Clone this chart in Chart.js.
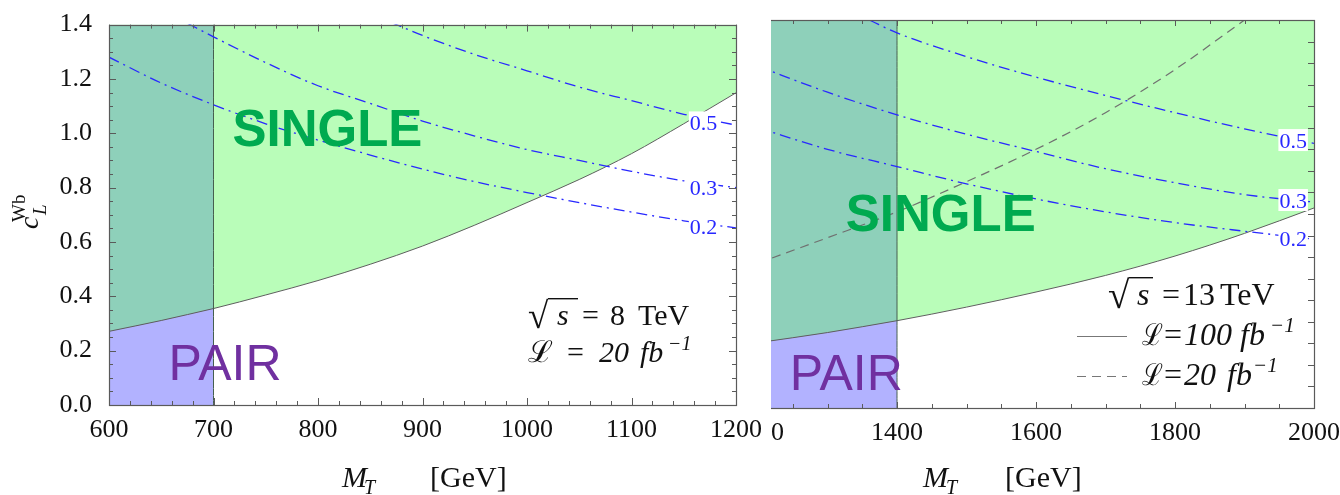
<!DOCTYPE html>
<html>
<head>
<meta charset="utf-8">
<script src="https://cdn.jsdelivr.net/npm/chart.js@4.4.1/dist/chart.umd.min.js"></script>
<style>
  html, body { margin: 0; padding: 0; background: #fff; overflow: hidden; }
  #page { position: relative; width: 1340px; height: 495px; }
  #left { position: absolute; left: 0; top: 0; }
  #rightClip { position: absolute; left: 771px; top: 0; width: 569px; height: 495px; overflow: hidden; }
  #right { position: absolute; left: -43px; top: 0; }
</style>
</head>
<body>
<div id="page">
  <canvas id="left" width="770" height="495"></canvas>
  <div id="rightClip"><canvas id="right" width="614" height="495"></canvas></div>
</div>
<script>
// ---- sqrt(s) = 8 TeV panel ----
const massL = [600, 650, 700, 750, 800, 850, 900, 950, 1000, 1050, 1100, 1150, 1200];
const reachL = [0.271, 0.311, 0.355, 0.405, 0.458, 0.518, 0.585, 0.662, 0.745, 0.830, 0.925, 1.035, 1.149];
const pairLimitL = 700;
const c05MassL = [870, 900, 950, 1000, 1050, 1100, 1150, 1200];
const c05L = [1.408, 1.36, 1.29, 1.23, 1.17, 1.12, 1.07, 1.03];
const c03MassL = [675, 700, 750, 800, 850, 900, 950, 1000, 1050, 1100, 1150, 1200];
const c03L = [1.405, 1.355, 1.26, 1.175, 1.11, 1.045, 0.99, 0.94, 0.90, 0.86, 0.825, 0.80];
const c02MassL = [600, 650, 700, 750, 800, 850, 900, 950, 1000, 1050, 1100, 1150, 1200];
const c02L = [1.28, 1.185, 1.105, 1.035, 0.975, 0.92, 0.868, 0.822, 0.782, 0.745, 0.71, 0.678, 0.652];
const xTicksL = [600, 700, 800, 900, 1000, 1100, 1200];
const yTicksL = [0, 0.2, 0.4, 0.6, 0.8, 1.0, 1.2, 1.4];

// ---- sqrt(s) = 13 TeV panel ----
const massR = [1200, 1300, 1400, 1500, 1600, 1700, 1800, 1900, 2000];
const reach100R = [0.303, 0.350, 0.405, 0.468, 0.538, 0.615, 0.705, 0.810, 0.928];
const reach20MassR = [1200, 1300, 1400, 1500, 1600, 1700, 1800, 1900];
const reach20R = [0.672, 0.79, 0.91, 1.05, 1.20, 1.37, 1.57, 1.80];
const pairLimitR = 1400;
const c05MassR = [1360, 1400, 1500, 1600, 1700, 1800, 1900, 2000];
const c05R = [1.80, 1.74, 1.63, 1.535, 1.45, 1.37, 1.295, 1.228];
const c03R = [1.585, 1.465, 1.36, 1.27, 1.19, 1.11, 1.045, 0.99, 0.955];
const c02R = [1.30, 1.20, 1.12, 1.04, 0.97, 0.91, 0.86, 0.82, 0.783];
const xTicksR = [1200, 1400, 1600, 1800, 2000];

// contour labels (value, then where the tag sits on the curve)
const contourNames = ['0.5', '0.3', '0.2'];
const tagMassL = 1169, tagCL = [1.04, 0.802, 0.657];
const tagMassR = 1970, tagCR = [1.243, 0.965, 0.789];

const SERIF = "'Liberation Serif', 'DejaVu Serif', serif";
const SANS = "'Liberation Sans', Arial, sans-serif";
const GREEN = 'rgb(185,253,185)';
const TEAL = 'rgb(142,208,186)';
const BLUE = 'rgb(178,178,255)';
const EDGE = 'rgb(95,95,95)';
const CONTOUR = 'rgb(40,40,255)';

Chart.defaults.font.family = SERIF;
Chart.defaults.font.size = 26;
Chart.defaults.color = '#111';

const pts = (xs, ys) => xs.map((x, i) => ({ x: x, y: ys[i] }));

function regionSets(mass, reach, pairLimit, yMax) {
  const pm = mass.filter(m => m <= pairLimit);
  const pairPts = pts(pm, reach);
  return [
    { data: pts(mass, reach), fill: 'end', backgroundColor: GREEN, borderColor: EDGE, borderWidth: 1, order: 5 },
    { data: pairPts, fill: 'end', backgroundColor: TEAL, borderColor: 'transparent', borderWidth: 0, order: 4 },
    { data: pairPts, fill: 'start', backgroundColor: BLUE, borderColor: EDGE, borderWidth: 1, order: 3 },
    { data: [{ x: pairLimit, y: 0 }, { x: pairLimit, y: yMax }], borderColor: 'rgb(70,95,80)', borderWidth: 1, fill: false, order: 2 }
  ];
}

function contourSet(xs, ys) {
  return { data: pts(xs, ys), borderColor: CONTOUR, borderWidth: 1.3, borderDash: [11, 5, 2, 5], fill: false, order: 1 };
}

// frame with inward ticks on all sides
function frameTicks(o) {
  return {
    id: 'frameTicks',
    afterDatasetsDraw(chart) {
      const { ctx, chartArea: a, scales: { x, y } } = chart;
      const isMajor = (v, step) => Math.abs(v / step - Math.round(v / step)) < 1e-6;
      ctx.save();
      ctx.strokeStyle = '#5a5a5a';
      ctx.lineWidth = 1;
      ctx.beginPath();
      const nx = Math.round((x.max - x.min) / o.xMinor);
      for (let i = 0; i <= nx; i++) {
        const v = x.min + i * o.xMinor;
        const px = Math.round(x.getPixelForValue(v)) + 0.5;
        const len = isMajor(v, o.xMajor) ? o.majorLen : o.minorLen;
        ctx.moveTo(px, a.bottom); ctx.lineTo(px, a.bottom - len);
        ctx.moveTo(px, a.top); ctx.lineTo(px, a.top + len);
      }
      const ny = Math.round((y.max - y.min) / o.yMinor);
      for (let i = 0; i <= ny; i++) {
        const v = y.min + i * o.yMinor;
        const py = Math.round(y.getPixelForValue(v)) + 0.5;
        const len = isMajor(v, o.yMajor) ? o.majorLen : o.minorLen;
        ctx.moveTo(a.left, py); ctx.lineTo(a.left + len, py);
        ctx.moveTo(a.right, py); ctx.lineTo(a.right - len, py);
      }
      ctx.stroke();
      ctx.lineWidth = 1.2;
      ctx.strokeRect(Math.round(a.left) + 0.5, Math.round(a.top) + 0.5,
        Math.round(a.right - a.left), Math.round(a.bottom - a.top));
      ctx.restore();
    }
  };
}

function contourTags(mass, cs) {
  return {
    id: 'contourTags',
    afterDatasetsDraw(chart) {
      const { ctx, scales: { x, y } } = chart;
      ctx.save();
      ctx.font = '22px ' + SERIF;
      ctx.textAlign = 'center';
      ctx.textBaseline = 'alphabetic';
      contourNames.forEach((name, i) => {
        const px = x.getPixelForValue(mass);
        const py = y.getPixelForValue(cs[i]);
        const w = ctx.measureText(name).width + 2;
        ctx.fillStyle = '#fff';
        ctx.fillRect(px - w / 2, py - 11, w, 22);
        ctx.fillStyle = CONTOUR;
        ctx.fillText(name, px, py + 8);
      });
      ctx.restore();
    }
  };
}

// text runs: [text, x, baseline, font, maxWidth]
function runs(ctx, list, dx) {
  list.forEach(r => {
    ctx.font = r[3];
    ctx.fillStyle = '#111';
    ctx.textAlign = 'left';
    ctx.textBaseline = 'alphabetic';
    if (r[4]) ctx.fillText(r[0], r[1] - dx, r[2], r[4]);
    else ctx.fillText(r[0], r[1] - dx, r[2]);
  });
}

// radical sign with its bar running to xEnd
function radical(ctx, x, y, size, xEnd) {
  ctx.save();
  ctx.font = size + 'px ' + SERIF;
  ctx.fillStyle = '#111';
  ctx.textBaseline = 'alphabetic';
  ctx.fillText('√', x, y);
  const m = ctx.measureText('√');
  const top = y - m.actualBoundingBoxAscent;
  ctx.strokeStyle = '#111';
  ctx.lineWidth = 1.4;
  ctx.beginPath();
  ctx.moveTo(x + m.actualBoundingBoxRight - 1, top + 0.7);
  ctx.lineTo(xEnd, top + 0.7);
  ctx.stroke();
  ctx.restore();
}

function hline(ctx, x0, x1, y, dash, color, width) {
  ctx.save();
  ctx.strokeStyle = color;
  ctx.lineWidth = width;
  ctx.setLineDash(dash);
  ctx.beginPath();
  ctx.moveTo(x0, y); ctx.lineTo(x1, y);
  ctx.stroke();
  ctx.restore();
}

function bigLabel(chart, text, at, font, color) {
  const { ctx, scales: { x, y } } = chart;
  ctx.save();
  ctx.font = font;
  ctx.fillStyle = color;
  ctx.textAlign = 'center';
  ctx.textBaseline = 'alphabetic';
  ctx.fillText(text, x.getPixelForValue(at[0]), y.getPixelForValue(at[1]) + 18.5);
  ctx.restore();
}

const N30 = '30px ' + SERIF, I30 = 'italic 30px ' + SERIF, I20 = 'italic 20px ' + SERIF;
const N32 = '32px ' + SERIF, I32 = 'italic 32px ' + SERIF, I21 = 'italic 21px ' + SERIF;
const SCRIPT = '30px ' + SERIF;

const notesL = {
  id: 'notesL',
  afterDraw(chart) {
    const ctx = chart.ctx;
    bigLabel(chart, 'SINGLE', [809, 1.021], 'bold 51px ' + SANS, '#00AA50');
    bigLabel(chart, 'PAIR', [711, 0.161], '50px ' + SANS, '#7030A0');
    radical(ctx, 528, 328, 37, 578);
    runs(ctx, [
      ['s', 557, 325, I30], ['=', 582, 325, N30], ['8', 610, 325, N30], ['TeV', 638, 325, N30],
      ['ℒ', 528, 362, SCRIPT, 25], ['=', 567, 362, N30], ['20', 599, 362, I30], ['fb', 640, 362, I30], ['−1', 668, 350, I20],
      ['M', 342, 487, I30], ['T', 364, 494, I20], ['[GeV]', 430, 487, N30]
    ], 0);
    // y axis title c_L^Wb
    ctx.save();
    ctx.translate(38, 229);
    ctx.rotate(-Math.PI / 2);
    runs(ctx, [['c', 0, 0, 'italic 28px ' + SERIF], ['L', 14, 8, 'italic 19px ' + SERIF], ['Wb', 7, -13, '19px ' + SERIF]], 0);
    ctx.restore();
  }
};

const OFF = 728; // right canvas left edge on the page
const notesR = {
  id: 'notesR',
  afterDraw(chart) {
    const ctx = chart.ctx;
    bigLabel(chart, 'SINGLE', [1463, 0.909], 'bold 51px ' + SANS, '#00AA50');
    bigLabel(chart, 'PAIR', [1327, 0.169], '50px ' + SANS, '#7030A0');
    radical(ctx, 1108 - OFF, 308, 39, 1153 - OFF);
    runs(ctx, [
      ['s', 1137, 305, I32], ['=', 1162, 305, N32], ['13', 1183, 305, N32], ['TeV', 1220, 305, N32],
      ['ℒ', 1142, 345, SCRIPT, 21], ['=', 1164, 345, N32], ['100', 1184, 345, I32], ['fb', 1240, 345, I32], ['−1', 1270, 332, I21],
      ['ℒ', 1142, 385, SCRIPT, 21], ['=', 1164, 385, N32], ['20', 1184, 385, I32], ['fb', 1227, 385, I32], ['−1', 1253, 372, I21],
      ['M', 923, 487, I30], ['T', 946, 494, I20], ['[GeV]', 1005, 487, N30]
    ], OFF);
    hline(ctx, 1077 - OFF, 1127 - OFF, 336.5, [], '#777', 1.2);
    hline(ctx, 1077 - OFF, 1127 - OFF, 376.5, [9, 6], '#777', 1.2);
  }
};

const tickFont = { family: SERIF, size: 26 };

const leftChart = new Chart(document.getElementById('left'), {
  type: 'line',
  data: {
    datasets: regionSets(massL, reachL, pairLimitL, 1.4).concat([
      contourSet(c05MassL, c05L), contourSet(c03MassL, c03L), contourSet(c02MassL, c02L)
    ])
  },
  options: {
    responsive: false,
    animation: false,
    devicePixelRatio: 1,
    layout: { padding: { left: 0, right: 34, top: 17, bottom: 0 } },
    elements: { point: { radius: 0 }, line: { cubicInterpolationMode: 'monotone' } },
    plugins: { legend: { display: false }, tooltip: { enabled: false } },
    scales: {
      x: {
        type: 'linear', min: 600, max: 1200,
        afterBuildTicks: s => { s.ticks = xTicksL.map(v => ({ value: v })); },
        afterFit: s => { s.height = 90; },
        ticks: { font: tickFont, color: '#111', padding: 2, autoSkip: false, maxRotation: 0, callback: v => String(v) },
        grid: { display: false }, border: { display: false }
      },
      y: {
        min: 0, max: 1.4,
        afterBuildTicks: s => { s.ticks = yTicksL.map(v => ({ value: v })); },
        afterFit: s => { s.width = 109; },
        ticks: { font: tickFont, color: '#111', padding: 9, callback: v => v.toFixed(1) },
        grid: { display: false }, border: { display: false }
      }
    }
  },
  plugins: [frameTicks({ xMinor: 20, xMajor: 100, yMinor: 0.05, yMajor: 0.2, majorLen: 7, minorLen: 4 }),
    contourTags(tagMassL, tagCL), notesL]
});

const rightChart = new Chart(document.getElementById('right'), {
  type: 'line',
  data: {
    datasets: regionSets(massR, reach100R, pairLimitR, 1.8).concat([
      { data: pts(reach20MassR, reach20R), borderColor: '#707070', borderWidth: 1.2, borderDash: [9, 6], fill: false, order: 1 },
      contourSet(c05MassR, c05R), contourSet(massR, c03R), contourSet(massR, c02R)
    ])
  },
  options: {
    responsive: false,
    animation: false,
    devicePixelRatio: 1,
    layout: { padding: { left: 30, right: 28, top: 20, bottom: 0 } },
    elements: { point: { radius: 0 }, line: { cubicInterpolationMode: 'monotone' } },
    plugins: { legend: { display: false }, tooltip: { enabled: false } },
    scales: {
      x: {
        type: 'linear', min: 1200, max: 2000,
        afterBuildTicks: s => { s.ticks = xTicksR.map(v => ({ value: v })); },
        afterFit: s => { s.height = 87; },
        ticks: { font: tickFont, color: '#111', padding: 2, autoSkip: false, maxRotation: 0, callback: v => String(v) },
        grid: { display: false }, border: { display: false }
      },
      y: { display: false, min: 0, max: 1.8 }
    }
  },
  plugins: [frameTicks({ xMinor: 50, xMajor: 200, yMinor: 0.1, yMajor: 0.1, majorLen: 6, minorLen: 4 }),
    contourTags(tagMassR, tagCR), notesR]
});
</script>
</body>
</html>
